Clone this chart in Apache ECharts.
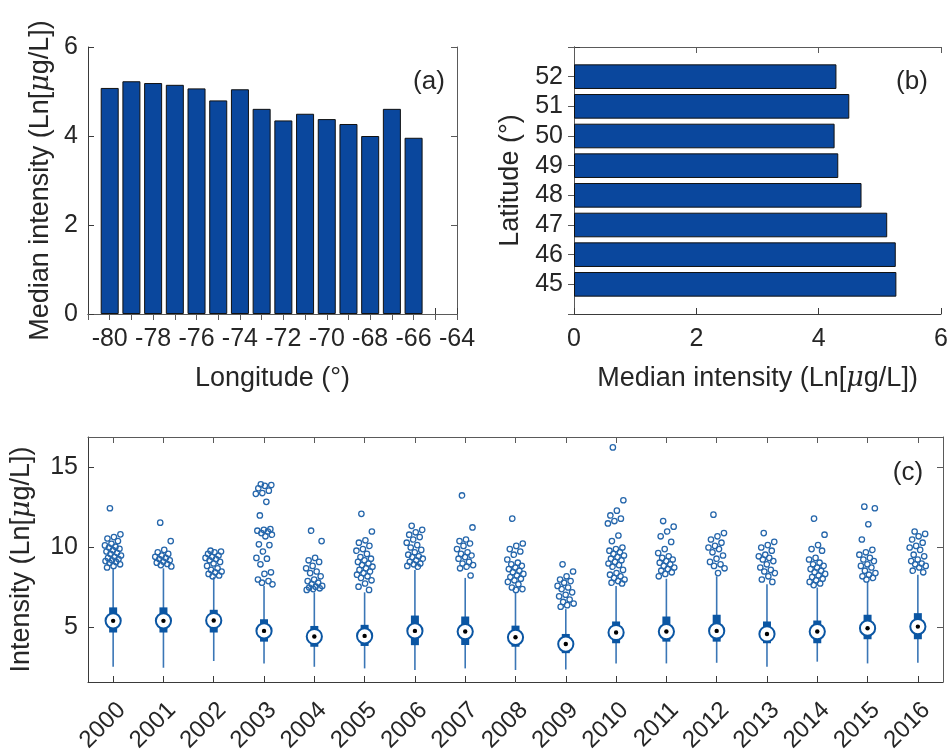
<!DOCTYPE html>
<html>
<head>
<meta charset="utf-8">
<script src="https://cdn.jsdelivr.net/npm/echarts@6/dist/echarts.min.js"></script>
<style>
html,body{margin:0;padding:0;background:#fff;}
#chart{width:951px;height:756px;}
</style>
</head>
<body>
<div id="chart"></div>
<script>
// ---------- Panel (a): median intensity by longitude ----------
const longitudes = [-80, -79, -78, -77, -76, -75, -74, -73, -72, -71, -70, -69, -68, -67, -66];
const lonMedians = [5.08, 5.23, 5.19, 5.15, 5.07, 4.80, 5.05, 4.61, 4.35, 4.50, 4.38, 4.27, 4.00, 4.61, 3.96];
const lonAxisRange = [-81, -64];

// ---------- Panel (b): median intensity by latitude ----------
const latitudes = [45, 46, 47, 48, 49, 50, 51, 52];
const latMedians = [5.27, 5.26, 5.12, 4.70, 4.32, 4.26, 4.50, 4.29];
const latAxisRange = [44, 53];

// ---------- Panel (c): yearly intensity box plots ----------
const years = ['2000','2001','2002','2003','2004','2005','2006','2007','2008','2009','2010','2011','2012','2013','2014','2015','2016'];
const whiskerLow  = [2.55, 2.49, 2.91, 2.76, 2.55, 2.45, 2.35, 2.45, 2.35, 2.38, 2.76, 2.76, 2.80, 2.55, 2.87, 2.76, 2.80];
const q1          = [4.69, 4.69, 4.69, 4.12, 3.80, 3.85, 3.90, 3.91, 3.80, 3.40, 4.02, 4.12, 4.12, 4.02, 4.02, 4.27, 4.27];
const medians     = [5.42, 5.42, 5.44, 4.79, 4.44, 4.48, 4.79, 4.75, 4.39, 3.97, 4.69, 4.75, 4.79, 4.60, 4.75, 4.96, 5.06];
const q3          = [6.26, 6.26, 6.11, 5.52, 5.10, 5.17, 5.75, 5.69, 5.12, 4.60, 5.38, 5.69, 5.80, 5.38, 5.44, 5.80, 5.90];
const whiskerHigh = [8.70, 8.70, 8.15, 7.60, 7.20, 7.20, 8.60, 8.10, 7.20, 6.15, 7.60, 8.05, 8.20, 7.70, 7.50, 7.85, 8.30];
const outliersByYear = [
  [12.45,10.82,10.65,10.56,10.4,10.23,10.13,10.05,10.0,9.92,9.83,9.75,9.67,9.6,9.5,9.42,9.35,9.28,9.2,9.15,9.1,9.04,8.95,8.85,8.75],
  [11.55,10.4,9.85,9.7,9.6,9.5,9.42,9.35,9.28,9.2,9.12,9.05,8.97,8.9,8.82],
  [9.8,9.75,9.7,9.6,9.5,9.42,9.35,9.28,9.2,9.1,9.0,8.85,8.7,8.6,8.5,8.45,8.35,8.25,8.2],
  [13.95,13.9,13.85,13.7,13.55,13.4,13.35,12.85,12.0,11.15,11.1,11.05,11.0,10.9,10.8,10.7,10.2,10.15,9.75,9.35,9.3,8.95,8.45,8.35,8.0,7.9,7.8,7.7],
  [11.05,10.4,9.35,9.2,9.1,8.85,8.7,8.5,8.4,8.2,8.0,7.9,7.8,7.7,7.6,7.55,7.5,7.45,7.4,7.35],
  [12.1,11.0,10.45,10.3,10.1,9.9,9.8,9.6,9.4,9.3,9.2,9.1,9.0,8.9,8.8,8.7,8.6,8.5,8.4,8.3,8.2,8.1,7.95,7.75,7.55,7.35],
  [11.35,11.1,10.95,10.8,10.65,10.5,10.3,10.15,10.0,9.85,9.7,9.55,9.45,9.4,9.3,9.2,9.1,9.0,8.95,8.85,8.8],
  [13.25,11.25,10.5,10.4,10.25,10.1,9.9,9.7,9.6,9.5,9.4,9.3,9.1,9.0,8.9,8.8,8.7,8.25],
  [11.8,10.25,10.1,9.9,9.75,9.55,9.25,9.05,8.95,8.85,8.75,8.65,8.55,8.45,8.35,8.25,8.15,8.05,7.95,7.85,7.7,7.5,7.4,7.35],
  [8.95,8.5,8.2,8.0,7.9,7.8,7.6,7.5,7.4,7.2,7.05,6.95,6.75,6.6,6.5,6.4,6.3],
  [16.25,12.95,12.3,12.0,11.8,11.65,11.5,10.75,10.4,10.0,9.9,9.8,9.7,9.6,9.5,9.4,9.3,9.2,9.1,9.0,8.9,8.8,8.6,8.4,8.3,8.2,8.1,8.0,7.9,7.8,7.75],
  [11.65,11.3,11.0,10.7,10.35,9.9,9.65,9.45,9.35,9.25,9.15,9.05,8.95,8.85,8.75,8.65,8.55,8.45,8.35,8.2],
  [12.05,10.9,10.7,10.5,10.3,10.1,10.0,9.9,9.7,9.5,9.3,9.1,8.95,8.85,8.7,8.4],
  [10.9,10.35,10.15,10.0,9.8,9.55,9.45,9.35,9.25,9.15,8.95,8.75,8.6,8.5,8.4,8.2,8.0,7.85],
  [11.8,10.8,10.15,9.9,9.8,9.35,9.25,9.05,8.95,8.85,8.75,8.65,8.55,8.45,8.35,8.25,8.15,8.05,7.95,7.85,7.75,7.65],
  [12.55,12.45,11.45,10.5,9.85,9.7,9.55,9.35,9.25,9.15,8.95,8.85,8.75,8.55,8.4,8.3,8.2,8.1,8.0],
  [11.0,10.85,10.7,10.5,10.3,10.1,10.0,9.85,9.55,9.45,9.25,9.15,9.0,8.95,8.85,8.75,8.55,8.45]
];
const intensityTicks = [5, 10, 15];
const intensityRange = [1.6, 16.9];

// ---------- build helpers ----------
const FONT = "'Liberation Sans', Arial, Helvetica, sans-serif";
const TXT = '#262626';
const AX = '#3a3a3a';
const AX2 = '#5a5a5a';
const BAR = '#0a479d';
const BOX = '#0b56a3';
const WHISK = '#3a76b6';
const OUTL = '#2566ab';

const lonCats = [];
for (let v = lonAxisRange[0]; v <= lonAxisRange[1]; v++) lonCats.push(String(v));
const lonBarData = lonCats.map(c => {
  const i = longitudes.indexOf(Number(c));
  return i >= 0 ? lonMedians[i] : '-';
});
const latCats = [];
for (let v = latAxisRange[0]; v <= latAxisRange[1]; v++) latCats.push(String(v));
const latBarData = latCats.map(c => {
  const i = latitudes.indexOf(Number(c));
  return i >= 0 ? latMedians[i] : '-';
});
const boxData = years.map((y, i) => [i, whiskerLow[i], q1[i], medians[i], q3[i], whiskerHigh[i]]);
const outlierData = [];
outliersByYear.forEach((arr, i) => arr.forEach((v, k) => outlierData.push([i, v, k])));

const muRich = {
  n: {fontFamily: FONT, fontSize: 27, color: TXT},
  i: {fontFamily: 'DejaVu Serif, serif', fontStyle: 'italic', fontSize: 27, color: TXT}
};
const muName = (pre) => '{n|' + pre + '(Ln[}{i|μ}{n|g/L])}';

const tickStyle = {show: true, inside: true, length: 6, lineStyle: {color: AX, width: 1}};
const lineStyle = {show: true, lineStyle: {color: AX, width: 1}};
const tickStyle2 = {show: true, inside: true, length: 6, lineStyle: {color: AX2, width: 1}};
const lineStyle2 = {show: true, lineStyle: {color: AX2, width: 1}};
const labelStyle = {color: TXT, fontFamily: FONT, fontSize: 25};

const grids = [
  {left: 88, top: 47, width: 369, height: 267},
  {left: 574, top: 47, width: 369, height: 267},
  {left: 88, top: 437, width: 855, height: 245}
];

const option = {
  backgroundColor: '#ffffff',
  animation: false,
  grid: grids,
  xAxis: [
    { // (a) bottom
      type: 'category', gridIndex: 0, data: lonCats, boundaryGap: false,
      axisLine: lineStyle, axisTick: Object.assign({interval: 0}, tickStyle),
      axisLabel: Object.assign({interval: 0, margin: 13,
        formatter: v => (Number(v) % 2 === 0 ? v : '')}, labelStyle),
      name: 'Longitude (°)', nameLocation: 'middle', nameGap: 51,
      nameTextStyle: {color: TXT, fontFamily: FONT, fontSize: 27}
    },
    { // (a) top mirror
      type: 'category', gridIndex: 0, data: lonCats, boundaryGap: false, position: 'top',
      axisLine: lineStyle2, axisTick: Object.assign({interval: 0}, tickStyle2), axisLabel: {show: false}
    },
    { // (b) bottom
      type: 'value', gridIndex: 1, min: 0, max: 6, interval: 2,
      axisLine: lineStyle, axisTick: tickStyle, splitLine: {show: false},
      axisLabel: Object.assign({margin: 13}, labelStyle),
      name: muName('Median intensity '), nameLocation: 'middle', nameGap: 51,
      nameTextStyle: {rich: muRich}
    },
    { // (b) top mirror
      type: 'value', gridIndex: 1, min: 0, max: 6, interval: 2, position: 'top',
      axisLine: lineStyle2, axisTick: tickStyle2, splitLine: {show: false}, axisLabel: {show: false}
    },
    { // (c) bottom
      type: 'category', gridIndex: 2, data: years, boundaryGap: true,
      axisLine: lineStyle, axisTick: Object.assign({alignWithLabel: true, interval: 0}, tickStyle),
      axisLabel: Object.assign({interval: 0, rotate: 45, margin: 16, align: 'right', verticalAlign: 'top'}, labelStyle, {fontSize: 24})
    },
    { // (c) top mirror
      type: 'category', gridIndex: 2, data: years, boundaryGap: true, position: 'top',
      axisLine: lineStyle2, axisTick: Object.assign({alignWithLabel: true, interval: 0}, tickStyle2), axisLabel: {show: false}
    }
  ],
  yAxis: [
    { // (a) left
      type: 'value', gridIndex: 0, min: 0, max: 6, interval: 2,
      axisLine: lineStyle, axisTick: tickStyle, splitLine: {show: false},
      axisLabel: Object.assign({margin: 10}, labelStyle),
      name: muName('Median intensity '), nameLocation: 'middle', nameGap: 34,
      nameTextStyle: {rich: muRich}
    },
    { // (a) right mirror
      type: 'value', gridIndex: 0, min: 0, max: 6, interval: 2, position: 'right',
      axisLine: lineStyle2, axisTick: tickStyle2, splitLine: {show: false}, axisLabel: {show: false}
    },
    { // (b) left
      type: 'category', gridIndex: 1, data: latCats, boundaryGap: false,
      axisLine: lineStyle, axisTick: Object.assign({interval: 0}, tickStyle),
      axisLabel: Object.assign({interval: 0, margin: 11,
        formatter: v => (latitudes.indexOf(Number(v)) >= 0 ? v : '')}, labelStyle),
      name: 'Latitude (°)', nameLocation: 'middle', nameGap: 50,
      nameTextStyle: {color: TXT, fontFamily: FONT, fontSize: 27}
    },
    { // (b) right mirror
      type: 'category', gridIndex: 1, data: latCats, boundaryGap: false, position: 'right',
      axisLine: lineStyle2, axisTick: Object.assign({interval: 0}, tickStyle2), axisLabel: {show: false}
    },
    { // (c) left
      type: 'value', gridIndex: 2, min: intensityRange[0], max: intensityRange[1],
      axisLine: lineStyle, axisTick: Object.assign({customValues: intensityTicks}, tickStyle),
      splitLine: {show: false},
      axisLabel: Object.assign({customValues: intensityTicks, margin: 10}, labelStyle),
      name: muName('Intensity '), nameLocation: 'middle', nameGap: 53,
      nameTextStyle: {rich: muRich}
    },
    { // (c) right mirror
      type: 'value', gridIndex: 2, min: intensityRange[0], max: intensityRange[1], position: 'right',
      axisLine: lineStyle2, axisTick: Object.assign({customValues: intensityTicks}, tickStyle2),
      splitLine: {show: false}, axisLabel: {show: false, customValues: intensityTicks}
    }
  ],
  series: [
    {
      type: 'bar', xAxisIndex: 0, yAxisIndex: 0, data: lonBarData, barWidth: '83%',
      itemStyle: {color: BAR, borderColor: '#111', borderWidth: 1}
    },
    {
      type: 'bar', xAxisIndex: 2, yAxisIndex: 2, data: latBarData, barWidth: '83%',
      itemStyle: {color: BAR, borderColor: '#111', borderWidth: 1}
    },
    {
      type: 'custom', xAxisIndex: 4, yAxisIndex: 4, data: boxData,
      renderItem: function (params, api) {
        const i = api.value(0);
        const pLo = api.coord([i, api.value(1)]);
        const pQ1 = api.coord([i, api.value(2)]);
        const pMed = api.coord([i, api.value(3)]);
        const pQ3 = api.coord([i, api.value(4)]);
        const pHi = api.coord([i, api.value(5)]);
        const x = pMed[0];
        return {
          type: 'group',
          children: [
            {type: 'line', shape: {x1: x, y1: pLo[1], x2: x, y2: pHi[1]},
             style: {stroke: WHISK, lineWidth: 1.6}},
            {type: 'rect', shape: {x: x - 4, y: pQ3[1], width: 8, height: pQ1[1] - pQ3[1]},
             style: {fill: BOX}},
            {type: 'circle', shape: {cx: x, cy: pMed[1], r: 7.6},
             style: {fill: '#ffffff', stroke: BOX, lineWidth: 2}},
            {type: 'circle', shape: {cx: x, cy: pMed[1], r: 2.2},
             style: {fill: '#000000'}}
          ]
        };
      }
    },
    {
      type: 'custom', xAxisIndex: 4, yAxisIndex: 4, data: outlierData,
      renderItem: function (params, api) {
        const p = api.coord([api.value(0), api.value(1)]);
        const k = api.value(2);
        const jitter = (((k * 0.6180339887 + 0.31) % 1) - 0.5) * 17;
        return {
          type: 'circle', shape: {cx: p[0] + jitter, cy: p[1], r: 2.7},
          style: {fill: 'none', stroke: OUTL, lineWidth: 1.3}
        };
      }
    }
  ],
  graphic: [
    {type: 'text', x: 429, y: 82, style: {text: '(a)', fill: TXT, font: '26px ' + FONT, align: 'center', verticalAlign: 'middle', textAlign: 'center', textVerticalAlign: 'middle'}},
    {type: 'text', x: 912, y: 82, style: {text: '(b)', fill: TXT, font: '26px ' + FONT, align: 'center', verticalAlign: 'middle', textAlign: 'center', textVerticalAlign: 'middle'}},
    {type: 'text', x: 908, y: 473, style: {text: '(c)', fill: TXT, font: '26px ' + FONT, align: 'center', verticalAlign: 'middle', textAlign: 'center', textVerticalAlign: 'middle'}}
  ]
};

const chart = echarts.init(document.getElementById('chart'), null, {renderer: 'canvas'});
chart.setOption(option);
</script>
</body>
</html>
